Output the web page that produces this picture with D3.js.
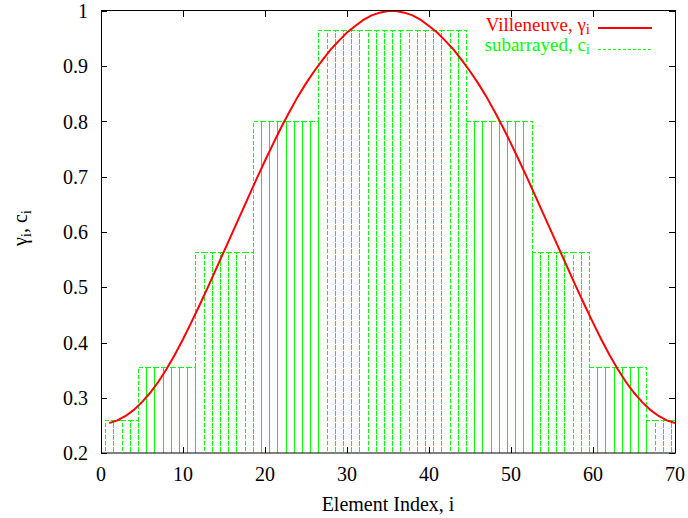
<!DOCTYPE html>
<html>
<head>
<meta charset="utf-8">
<script src="https://cdn.jsdelivr.net/npm/d3@7"></script>
<style>
  body { margin: 0; background: #fff; }
</style>
</head>
<body>
<script>
// element index i = 1..70
const elementIndex = [
  1,2,3,4,5,6,7,8,9,10,11,12,13,14,15,16,17,18,19,20,
  21,22,23,24,25,26,27,28,29,30,31,32,33,34,35,36,37,38,39,40,
  41,42,43,44,45,46,47,48,49,50,51,52,53,54,55,56,57,58,59,60,
  61,62,63,64,65,66,67,68,69,70];

// Villeneuve taper gamma_i
const villeneuve = [
  0.254,0.259,0.267,0.278,0.292,0.309,0.329,0.352,0.378,0.406,
  0.436,0.467,0.499,0.532,0.565,0.598,0.631,0.664,0.697,0.729,
  0.760,0.790,0.818,0.845,0.869,0.891,0.911,0.930,0.946,0.961,
  0.973,0.984,0.992,0.997,1.000,1.000,0.997,0.992,0.984,0.973,
  0.961,0.946,0.930,0.911,0.891,0.869,0.845,0.818,0.790,0.760,
  0.729,0.697,0.664,0.631,0.598,0.565,0.532,0.499,0.467,0.436,
  0.406,0.378,0.352,0.329,0.309,0.292,0.278,0.267,0.259,0.254];

// subarrayed weights c_i (green boxes)
const subarrayed = [
  0.26,0.26,0.26,0.26,
  0.355,0.355,0.355,0.355,0.355,0.355,0.355,
  0.563,0.563,0.563,0.563,0.563,0.563,0.563,
  0.80,0.80,0.80,0.80,0.80,0.80,0.80,0.80,
  0.965,0.965,0.965,0.965,0.965,0.965,0.965,0.965,0.965,
  0.965,0.965,0.965,0.965,0.965,0.965,0.965,0.965,0.965,
  0.80,0.80,0.80,0.80,0.80,0.80,0.80,0.80,
  0.563,0.563,0.563,0.563,0.563,0.563,0.563,
  0.355,0.355,0.355,0.355,0.355,0.355,0.355,
  0.26,0.26,0.26,0.26];

const xTicks = [0,10,20,30,40,50,60,70];
const yTicks = [0.2,0.3,0.4,0.5,0.6,0.7,0.8,0.9,1];

const w = 688, h = 518;
const pLeft = 101, pRight = 675, pTop = 11, pBottom = 453;
const fs = 20, subFs = 15;

const x = d3.scaleLinear().domain([0,70]).range([pLeft,pRight]);
const y = d3.scaleLinear().domain([0.2,1]).range([pBottom,pTop]);

const svg = d3.select("body").append("svg")
  .attr("width",w)
  .attr("height",h)
  .style("font-family","'Liberation Serif', 'Times New Roman', Times, serif");

svg.append("clipPath").attr("id","plotclip")
  .append("rect")
  .attr("x",pLeft).attr("y",pTop)
  .attr("width",pRight-pLeft).attr("height",pBottom-pTop);

const plot = svg.append("g").attr("clip-path","url(#plotclip)");

// green dashed boxes, width 1 centred on each element
plot.selectAll("path.box")
  .data(elementIndex)
  .join("path")
  .attr("class","box")
  .attr("d",(d,i)=>{
    const x0 = Math.round(x(d-0.5))+0.5, x1 = Math.round(x(d+0.5))+0.5;
    const yt = Math.round(y(subarrayed[i]))+0.5, yb = y(0.2)+4;
    return `M${x0},${yb}L${x0},${yt}L${x1},${yt}L${x1},${yb}`;
  })
  .style("fill","none")
  .style("stroke","#00ff00")
  .style("stroke-width",1)
  .style("stroke-dasharray","4,2")
  .style("shape-rendering","crispEdges");

// red Villeneuve curve
const line = d3.line()
  .x((d,i)=>x(elementIndex[i]))
  .y(d=>y(d));

plot.append("path")
  .datum(villeneuve)
  .attr("d",line)
  .style("fill","none")
  .style("stroke","#ff0000")
  .style("stroke-width",2);

// frame
svg.append("rect")
  .attr("x",pLeft+0.5).attr("y",pTop-0.5)
  .attr("width",pRight-pLeft).attr("height",pBottom-pTop+0.5)
  .style("fill","none").style("stroke","#000").style("stroke-width",1);

const tl = 6;
const ticks = svg.append("g").style("stroke","#000").style("stroke-width",1);
xTicks.forEach(t=>{
  const px = Math.round(x(t))+0.5;
  ticks.append("line").attr("x1",px).attr("x2",px).attr("y1",pBottom).attr("y2",pBottom-tl);
  ticks.append("line").attr("x1",px).attr("x2",px).attr("y1",pTop).attr("y2",pTop+tl);
});
yTicks.forEach(t=>{
  const py = Math.round(y(t))+0.5;
  ticks.append("line").attr("x1",pLeft).attr("x2",pLeft+tl).attr("y1",py).attr("y2",py);
  ticks.append("line").attr("x1",pRight).attr("x2",pRight-tl).attr("y1",py).attr("y2",py);
});

svg.selectAll("text.xt")
  .data(xTicks)
  .join("text")
  .attr("class","xt")
  .attr("x",d=>x(d))
  .attr("y",481)
  .attr("text-anchor","middle")
  .style("font-size",fs+"px")
  .text(d=>d);

svg.selectAll("text.yt")
  .data(yTicks)
  .join("text")
  .attr("class","yt")
  .attr("x",88)
  .attr("y",d=>y(d)+7)
  .attr("text-anchor","end")
  .style("font-size",fs+"px")
  .text(d=>d);

svg.append("text")
  .attr("x",388).attr("y",511)
  .attr("text-anchor","middle")
  .style("font-size",fs+"px")
  .text("Element Index, i");

// y label
const yl = svg.append("text")
  .attr("transform","translate(27,228) rotate(-90)")
  .attr("text-anchor","middle")
  .style("font-size",fs+"px");
yl.append("tspan").text("γ");
yl.append("tspan").attr("dy",4).style("font-size",subFs+"px").text("i");
yl.append("tspan").attr("dy",-4).text(", c");
yl.append("tspan").attr("dy",4).style("font-size",subFs+"px").text("i");

// legend
const legFs = 19;
const leg = svg.append("g");
const l1 = leg.append("text").attr("x",590).attr("y",31)
  .attr("text-anchor","end").style("font-size",legFs+"px").style("fill","#ff0000");
l1.append("tspan").text("Villeneuve, γ");
l1.append("tspan").attr("dy",3).style("font-size",subFs+"px").text("i");
leg.append("line").attr("x1",598).attr("x2",652).attr("y1",28).attr("y2",28)
  .style("stroke","#ff0000").style("stroke-width",2);

const l2 = leg.append("text").attr("x",590).attr("y",51)
  .attr("text-anchor","end").style("font-size",legFs+"px").style("fill","#00ff00");
l2.append("tspan").text("subarrayed, c");
l2.append("tspan").attr("dy",3).style("font-size",subFs+"px").text("i");
leg.append("line").attr("x1",598).attr("x2",652).attr("y1",49.5).attr("y2",49.5)
  .style("stroke","#00ff00").style("stroke-width",1).style("stroke-dasharray","3,2")
  .style("shape-rendering","crispEdges");
</script>
</body>
</html>
